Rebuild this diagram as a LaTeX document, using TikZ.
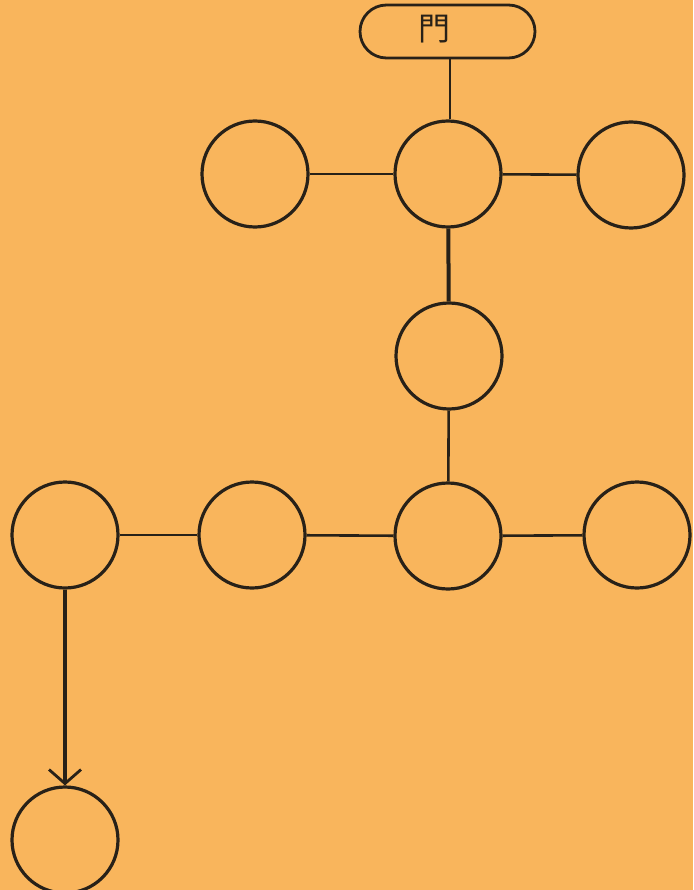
\documentclass[tikz,border=0pt]{standalone}
\usepackage{fontspec}
\newfontfamily\cjkfont{Noto Sans CJK TC}
\usetikzlibrary{arrows.meta}
\definecolor{paper}{RGB}{249,181,92}
\definecolor{ink}{RGB}{40,33,24}
\begin{document}
\begin{tikzpicture}[x=1pt,y=-1pt,
  ball/.style={circle,draw=ink,line width=3.2pt,minimum size=106pt,inner sep=0pt},
  link/.style={draw=ink,line width=2.6pt},
  thick link/.style={draw=ink,line width=4pt}]
\clip (0,0) rectangle (693,890);
\fill[paper] (0,0) rectangle (693,890);
\node[draw=ink,line width=2.8pt,rounded corners=26.5pt,minimum width=175pt,minimum height=53pt,inner sep=0pt] (gate) at (447.5,31.5) {};
\node[font=\cjkfont\fontsize{32}{32}\selectfont,text=ink] (gatelabel) at (434,29) {門};
\node[ball] (tl) at (255,174) {};
\node[ball] (tm) at (448,174) {};
\node[ball] (tr) at (631,175) {};
\node[ball] (mid) at (449,356) {};
\node[ball] (b1) at (65,535) {};
\node[ball] (b2) at (252,535) {};
\node[ball] (b3) at (448,536) {};
\node[ball] (b4) at (637,535) {};
\node[ball] (end) at (65,840) {};
\draw[link] (gate.south -| 450,0) -- (tm.north -| 450,0);
\draw[link] (tl) -- (tm);
\draw[link] (tm) -- (tr);
\draw[thick link] (tm) -- (mid);
\draw[link] (mid) -- (b3);
\draw[link] (b1) -- (b2);
\draw[link] (b2) -- (b3);
\draw[link] (b3) -- (b4);
\draw[thick link,-{Straight Barb[length=14pt,width=32pt,line width=2.8pt]}] (b1) -- (end);
\end{tikzpicture}
\end{document}
